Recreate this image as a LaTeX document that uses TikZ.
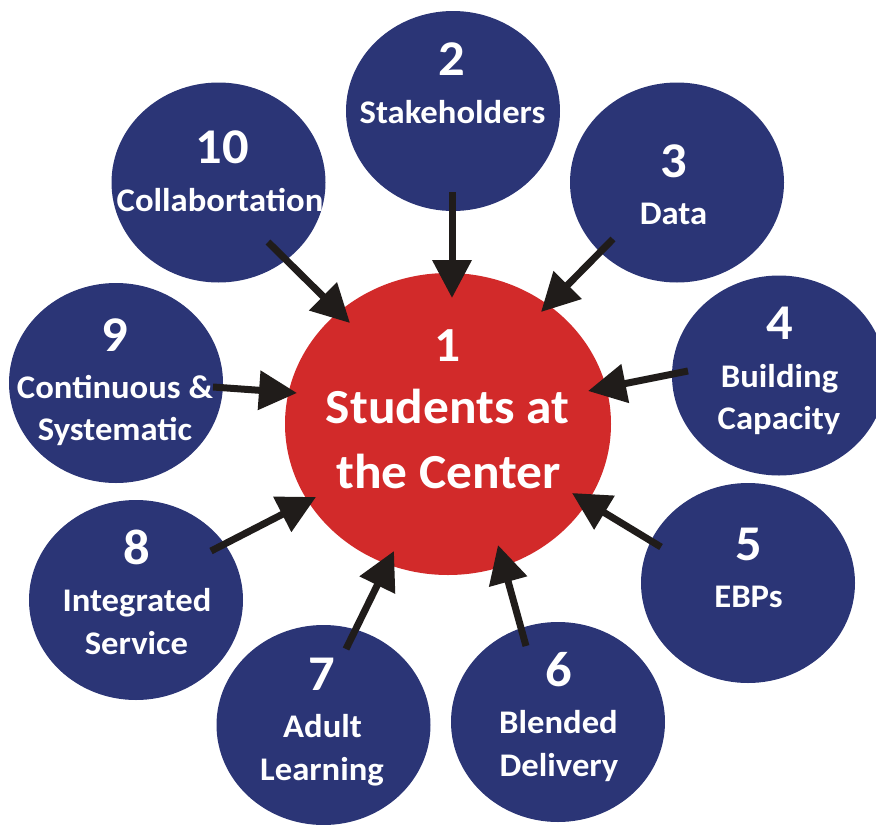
\documentclass[tikz,border=0pt]{standalone}
\usepackage{fontspec}
\setmainfont{Carlito}[FakeStretch=1.05]
\usetikzlibrary{arrows.meta,shapes.geometric}
\definecolor{navy}{RGB}{43,53,118}
\definecolor{cred}{RGB}{210,42,42}
\definecolor{ink}{RGB}{32,28,26}
\begin{document}
\begin{tikzpicture}[x=1pt,y=-1pt,
  bub/.style={ellipse, fill=navy, minimum width=214pt, minimum height=200pt, inner sep=0pt},
  hub/.style={ellipse, fill=cred, minimum width=326pt, minimum height=302pt, inner sep=0pt},
  num/.style={text=white, anchor=base, inner sep=0pt, font=\fontsize{50}{50}\selectfont\bfseries},
  lab/.style={text=white, anchor=base, inner sep=0pt, font=\fontsize{33}{33}\selectfont\bfseries},
  big/.style={text=white, anchor=base, inner sep=0pt, font=\fontsize{49}{49}\selectfont\bfseries},
  arr/.style={draw=ink, line width=7pt, -{Triangle[length=38pt,width=38pt]}}]
\useasboundingbox (0,0) rectangle (876,825);
% bubbles
\node[hub] (c1) at (448,424) {};
\node[bub] (c2) at (453,111) {};
\node[bub] (c3) at (677,182.5) {};
\node[bub] (c4) at (779,375.5) {};
\node[bub] (c5) at (748,583) {};
\node[bub] (c6) at (558,722) {};
\node[bub] (c7) at (323.5,725) {};
\node[bub] (c8) at (136,600) {};
\node[bub] (c9) at (116,383) {};
\node[bub] (c10) at (218.5,182.5) {};
% arrows
\draw[arr] ([shift={(49.5,59.5)}]c10.center) -- ([shift={(-98,-101)}]c1.center);
\draw[arr] ([shift={(-1,81)}]c2.center) -- ([shift={(4,-126)}]c1.center);
\draw[arr] ([shift={(-64,56.5)}]c3.center) -- ([shift={(93,-112)}]c1.center);
\draw[arr] ([shift={(-91,-4.5)}]c4.center) -- ([shift={(140,-33)}]c1.center);
\draw[arr] ([shift={(-87,-36)}]c5.center) -- ([shift={(124,69)}]c1.center);
\draw[arr] ([shift={(-32,-76)}]c6.center) -- ([shift={(50,121)}]c1.center);
\draw[arr] ([shift={(22.5,-76)}]c7.center) -- ([shift={(-54,127)}]c1.center);
\draw[arr] ([shift={(75,-49)}]c8.center) -- ([shift={(-132,73)}]c1.center);
\draw[arr] ([shift={(97,4)}]c9.center) -- ([shift={(-151,-31)}]c1.center);
% texts
\node[big] (t1a) at (447.5,361) {1};
\node[big] (t1b) at (447.5,423) {Students at};
\node[big] (t1c) at (448.5,488) {the Center};
\node[num] (t2a) at (452,75) {2};
\node[lab] (t2b) at (452.5,123) {Stakeholders};
\node[num] (t3a) at (674,177) {3};
\node[lab] (t3b) at (673.5,224) {Data};
\node[num] (t4a) at (779.5,339) {4};
\node[lab] (t4b) at (779.5,387) {Building};
\node[lab] (t4c) at (779,429) {Capacity};
\node[num] (t5a) at (749,560) {5};
\node[lab] (t5b) at (748.5,607) {EBPs};
\node[num] (t6a) at (559,686) {6};
\node[lab] (t6b) at (558.5,733) {Blended};
\node[lab] (t6c) at (559,776) {Delivery};
\node[num] (t7a) at (322,690) {7};
\node[lab] (t7b) at (322.5,737) {Adult};
\node[lab] (t7c) at (322,780) {Learning};
\node[num] (t8a) at (137,564) {8};
\node[lab] (t8b) at (137,611) {Integrated};
\node[lab] (t8c) at (136.5,654) {Service};
\node[num] (t9a) at (115,351) {9};
\node[lab] (t9b) at (115,398) {Continuous \&};
\node[lab] (t9c) at (115,440) {Systematic};
\node[num] (t10a) at (222,163) {10};
\node[lab] (t10b) at (220,211) {Collabortation};
\end{tikzpicture}
\end{document}
